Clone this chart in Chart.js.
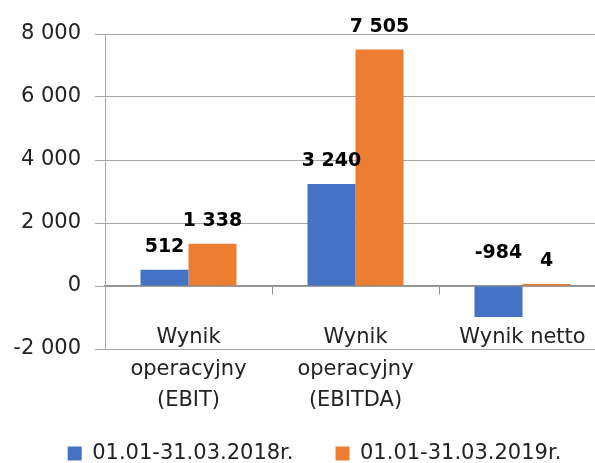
<!DOCTYPE html>
<html><head><meta charset="utf-8">
<script src="https://cdn.jsdelivr.net/npm/chart.js@4/dist/chart.umd.min.js"></script>
<style>html,body{margin:0;padding:0;overflow:hidden;background:#fff}#wrap{position:relative;width:629px;height:463px}</style>
</head><body><div id="wrap"><canvas id="c"></canvas></div>
<script>
const categories = [['Wynik', 'operacyjny', '(EBIT)'], ['Wynik', 'operacyjny', '(EBITDA)'], 'Wynik netto'];
const series2018 = [512, 3240, -984];
const series2019 = [1338, 7505, 4];
const seriesNames = ['01.01-31.03.2018r.', '01.01-31.03.2019r.'];
const seriesColors = ['#4472C4', '#ED7D31'];
const yTicks = [-2000, 0, 2000, 4000, 6000, 8000];

const FONT = 'DejaVu Sans';
function fmt(v) {
  const s = Math.abs(Math.round(v)).toString().replace(/\B(?=(\d{3})+(?!\d))/g, ' ');
  return (v < 0 ? '-' : '') + s;
}

const valueLabels = {
  id: 'valueLabels',
  afterDatasetsDraw(chart) {
    const ctx = chart.ctx;
    ctx.save();
    ctx.font = 'bold 19px "' + FONT + '"';
    ctx.fillStyle = '#000';
    ctx.textAlign = 'center';
    ctx.textBaseline = 'alphabetic';
    chart.data.datasets.forEach((ds, i) => {
      chart.getDatasetMeta(i).data.forEach((bar, j) => {
        const v = ds.data[j];
        const y = v >= 0 ? bar.y - 18 : bar.base - 29;
        ctx.fillText(fmt(v), bar.x, y);
      });
    });
    ctx.restore();
  }
};

new Chart(document.getElementById('c'), {
  type: 'bar',
  data: {
    labels: categories,
    datasets: [
      { label: seriesNames[0], data: series2018, backgroundColor: seriesColors[0] },
      { label: seriesNames[1], data: series2019, backgroundColor: seriesColors[1] }
    ]
  },
  options: {
    responsive: true,
    maintainAspectRatio: false,
    animation: false,
    categoryPercentage: 0.575,
    barPercentage: 1,
    minBarLength: 2,
    layout: { padding: { top: 34, left: 0, right: 0, bottom: 0 } },
    plugins: {
      tooltip: { enabled: false },
      legend: {
        position: 'bottom',
        align: 'center',
        maxHeight: 114,
        title: { display: true, text: '', padding: 0, font: { size: 10, lineHeight: '52px' } },
        labels: {
          boxWidth: 14, boxHeight: 14, padding: 42, color: '#222',
          font: { family: FONT, size: 21 }
        }
      }
    },
    scales: {
      x: {
        position: { y: 0 },
        grid: { drawOnChartArea: false, drawTicks: true, tickLength: 8, color: '#8f8f8f', offset: true },
        border: { display: true, color: '#8f8f8f', width: 1.5 },
        ticks: { color: '#222', padding: 28, maxRotation: 0, autoSkip: false,
          font: { family: FONT, size: 21, lineHeight: 1.5 } }
      },
      y: {
        position: 'left',
        min: yTicks[0],
        max: yTicks[yTicks.length - 1],
        afterFit(scale) { scale.width = 105; },
        afterBuildTicks(scale) { scale.ticks = yTicks.map(v => ({ value: v })); },
        grid: { color: '#a6a6a6', tickLength: 10, lineWidth: 1 },
        border: { display: true, color: '#a6a6a6', width: 1 },
        ticks: { color: '#222', padding: 14, callback: v => fmt(v),
          font: { family: FONT, size: 21 } }
      },
      yR: {
        position: 'right',
        display: true,
        afterFit(scale) { scale.width = 23; },
        grid: { display: false, drawTicks: false },
        border: { display: false },
        ticks: { display: false }
      }
    }
  },
  plugins: [valueLabels]
});
</script>
</body></html>
